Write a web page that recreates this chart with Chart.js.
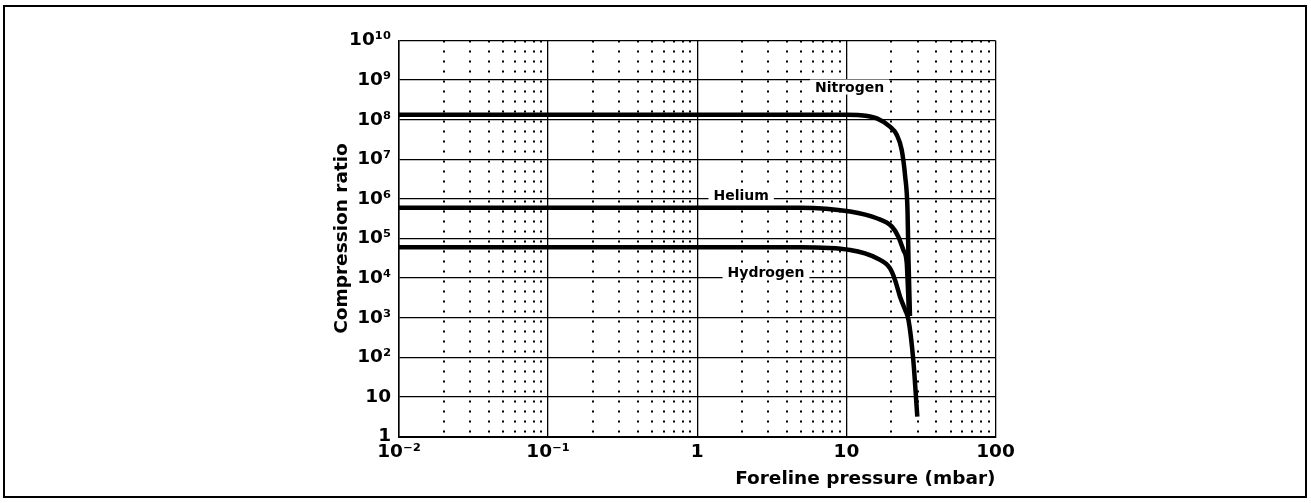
<!DOCTYPE html>
<html><head><meta charset="utf-8">
<script src="https://cdn.jsdelivr.net/npm/chart.js@4.4.1/dist/chart.umd.min.js"></script>
<style>html,body{margin:0;padding:0;background:#fff;overflow:hidden}canvas{display:block}</style>
</head><body>
<canvas id="c" width="1311" height="503"></canvas>
<script>
// ---- data ----
const nitrogenPressure = [0.01, 1, 10, 12.4, 16.0, 19.6, 21.8, 23.5, 24.8, 25.7, 26.1, 26.7];
const nitrogenRatio    = [1.34e8, 1.34e8, 1.33e8, 1.3e8, 1.08e8, 6.66e7, 4.1e7, 1.72e7, 3.64e6, 5.25e5, 2.86e4, 1.1e3];

const heliumPressure = [0.01, 1, 4.89, 10.6, 16.0, 20.2, 22.3, 24.1, 25.4, 25.9, 26.3];
const heliumRatio    = [6.0e5, 6.0e5, 6.0e5, 4.8e5, 3.24e5, 1.99e5, 1.11e5, 5.12e4, 2.4e4, 5.0e3, 1.1e3];

const hydrogenPressure = [0.01, 1, 4.89, 10.6, 16.0, 19.6, 21.2, 22.9, 24.8, 26.1, 28.1, 29.9];
const hydrogenRatio    = [6.0e4, 6.0e4, 6.0e4, 5.1e4, 3.16e4, 1.77e4, 8.96e3, 3.39e3, 1.56e3, 875, 85.5, 3.16];

const gasLabels        = ['Nitrogen', 'Helium', 'Hydrogen'];
const gasLabelPressure = [10.5, 1.97, 2.89];
const gasLabelRatio    = [5.15e8, 9.4e5, 1.08e4];

const xTickValues = [0.01, 0.1, 1, 10, 100];
const xTickLabels = ['10\u207B\u00B2', '10\u207B\u00B9', '1', '10', '100'];
const yTickValues = [1, 10, 1e2, 1e3, 1e4, 1e5, 1e6, 1e7, 1e8, 1e9, 1e10];
const yTickLabels = ['1', '10', '10\u00B2', '10\u00B3', '10\u2074', '10\u2075', '10\u2076', '10\u2077', '10\u2078', '10\u2079', '10\u00B9\u2070'];
const xTitle = 'Foreline pressure (mbar)';
const yTitle = 'Compression ratio';

// ---- helpers ----
const toPoints = (xs, ys) => xs.map((v, i) => ({x: v, y: ys[i]}));
const FONT = '"DejaVu Sans", sans-serif';
Chart.defaults.font.family = FONT;
Chart.defaults.color = '#000';

const frame = {
  id: 'frame',
  beforeDraw(chart) {
    const c = chart.ctx;
    c.save();
    c.fillStyle = '#fff';
    c.fillRect(0, 0, chart.width, chart.height);
    c.strokeStyle = '#000';
    c.lineWidth = 2;
    c.strokeRect(4, 6, 1302, 491);
    c.restore();
  }
};

const gasLabelPlugin = {
  id: 'gasLabels',
  afterDraw(chart) {
    const c = chart.ctx, xs = chart.scales.x, ys = chart.scales.y;
    c.save();
    c.font = 'bold 14px ' + FONT;
    c.textAlign = 'center';
    c.textBaseline = 'alphabetic';
    gasLabels.forEach((t, i) => {
      const px = xs.getPixelForValue(gasLabelPressure[i]);
      const py = ys.getPixelForValue(gasLabelRatio[i]);
      const w = c.measureText(t).width;
      c.fillStyle = '#fff';
      c.fillRect(px - w / 2 - 5, py - 12, w + 10, 15);
      c.fillStyle = '#000';
      c.fillText(t, px, py);
    });
    c.restore();
  }
};

const lineStyle = {
  borderColor: '#000', borderWidth: 4.5, pointRadius: 0, fill: false,
  cubicInterpolationMode: 'monotone', borderCapStyle: 'butt', borderJoinStyle: 'round'
};

new Chart(document.getElementById('c'), {
  type: 'line',
  data: {
    datasets: [
      Object.assign({label: 'Nitrogen', data: toPoints(nitrogenPressure, nitrogenRatio)}, lineStyle),
      Object.assign({label: 'Helium', data: toPoints(heliumPressure, heliumRatio)}, lineStyle),
      Object.assign({label: 'Hydrogen', data: toPoints(hydrogenPressure, hydrogenRatio)}, lineStyle)
    ]
  },
  options: {
    responsive: false,
    animation: false,
    devicePixelRatio: 1,
    layout: {padding: {left: 327.4, right: 315.5, top: 40.5, bottom: 8.9}},
    plugins: {legend: {display: false}, tooltip: {enabled: false}},
    scales: {
      x: {
        type: 'logarithmic', min: 0.01, max: 100,
        afterBuildTicks(scale) {
          const t = [];
          for (let e = -2; e < 2; e++) {
            for (let m = 1; m <= 9; m++) t.push({value: m * Math.pow(10, e), major: m === 1});
          }
          t.push({value: 100, major: true});
          scale.ticks = t;
        },
        afterFit(scale) { scale.height = 57.6; },
        ticks: {
          autoSkip: false, maxRotation: 0, padding: 4.4,
          font: {size: 18.5, weight: 'bold'},
          callback(value) {
            const k = xTickValues.findIndex(v => Math.abs(Math.log10(v) - Math.log10(value)) < 1e-6);
            return k >= 0 ? xTickLabels[k] : '';
          }
        },
        grid: {
          drawTicks: false, color: '#000',
          lineWidth: ctx => (ctx.tick && !ctx.tick.major) ? 2 : 1.3
        },
        border: {
          display: true, color: '#000', width: 2,
          dash: ctx => (ctx.tick && !ctx.tick.major) ? [2, 8] : []
        },
        title: {display: true, text: xTitle, align: 'end', font: {size: 18.5, weight: 'bold'}, padding: {top: 4, bottom: 4}}
      },
      y: {
        type: 'logarithmic', min: 1, max: 1e10,
        afterBuildTicks(scale) {
          scale.ticks = yTickValues.map(v => ({value: v, major: true}));
        },
        afterFit(scale) { scale.width = 71.6; },
        ticks: {
          autoSkip: false, padding: 8,
          font: {size: 18.5, weight: 'bold'},
          callback(value) {
            const k = yTickValues.findIndex(v => Math.abs(Math.log10(v) - Math.log10(value)) < 1e-6);
            return k >= 0 ? yTickLabels[k] : '';
          }
        },
        grid: {drawTicks: false, color: '#000', lineWidth: 1.3},
        border: {display: true, color: '#000', width: 1.5},
        title: {display: true, text: yTitle, font: {size: 18.5, weight: 'bold'}, padding: {top: 4, bottom: 4}}
      }
    }
  },
  plugins: [frame, gasLabelPlugin]
});
</script>
</body></html>
